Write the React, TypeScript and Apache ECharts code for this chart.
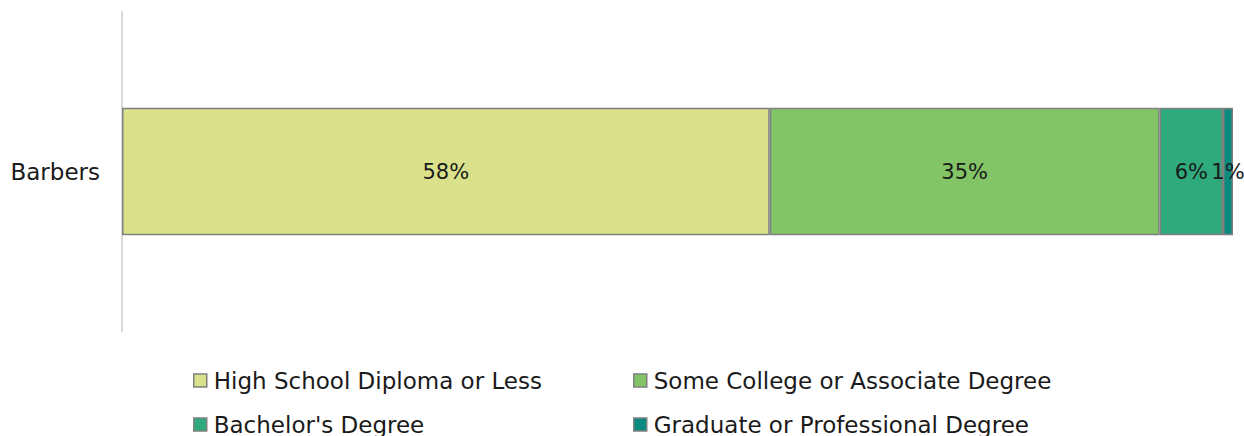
import React, { useEffect, useRef } from "react";
import * as echarts from "echarts";

const categories = ["Barbers"];
const seriesNames = [
  "High School Diploma or Less",
  "Some College or Associate Degree",
  "Bachelor's Degree",
  "Graduate or Professional Degree",
];
const hsValues = [58.3];
const someCollegeValues = [35.1];
const bachelorValues = [5.7];
const graduateValues = [0.9];
const colors = ["#d9e18b", "#82c466", "#2eaa7c", "#0b8a80"];

const FONT = "'DejaVu Sans', sans-serif";

const legendPos = [
  { left: 188, top: 364 },
  { left: 628, top: 364 },
  { left: 188, top: 408 },
  { left: 628, top: 408 },
];

export default function App() {
  const ref = useRef<HTMLDivElement>(null);
  useEffect(() => {
    if (!ref.current) return;
    const chart = echarts.init(ref.current, undefined, { renderer: "svg" });
    const valueSets = [hsValues, someCollegeValues, bachelorValues, graduateValues];
    const series = seriesNames.map((name, i) => ({
      name,
      type: "bar",
      stack: "total",
      barWidth: "40%",
      data: valueSets[i],
      itemStyle: { color: colors[i], borderColor: "#808080", borderWidth: 1.5 },
      label: {
        show: true,
        position: "inside",
        formatter: (p: any) => Math.round(p.value) + "%",
        color: "#1a1a1a",
        fontSize: 21,
        fontFamily: FONT,
      },
      emphasis: { disabled: true },
    }));
    chart.setOption({
      animation: false,
      grid: { left: 122, right: 11, top: 12, bottom: 105 },
      xAxis: { type: "value", min: 0, max: 100, show: false },
      yAxis: {
        type: "category",
        data: categories,
        axisLine: { show: true, lineStyle: { color: "#d9d9d9", width: 2 } },
        axisTick: { show: false },
        axisLabel: { color: "#1a1a1a", fontSize: 23, fontFamily: FONT, margin: 22 },
      },
      legend: seriesNames.map((name, i) => ({
        left: legendPos[i].left,
        top: legendPos[i].top,
        icon: "rect",
        itemWidth: 13,
        itemHeight: 13,
        itemGap: 5,
        data: [name],
        textStyle: { color: "#1a1a1a", fontSize: 23, fontFamily: FONT, padding: [0, 0, 0, 2] },
        itemStyle: { borderColor: "#808080", borderWidth: 1.5 },
        selectedMode: false,
      })),
      series,
    });
    return () => chart.dispose();
  }, []);
  return <div ref={ref} style={{ width: 1244, height: 436, position: "absolute", left: 0, top: 0 }} />;
}
